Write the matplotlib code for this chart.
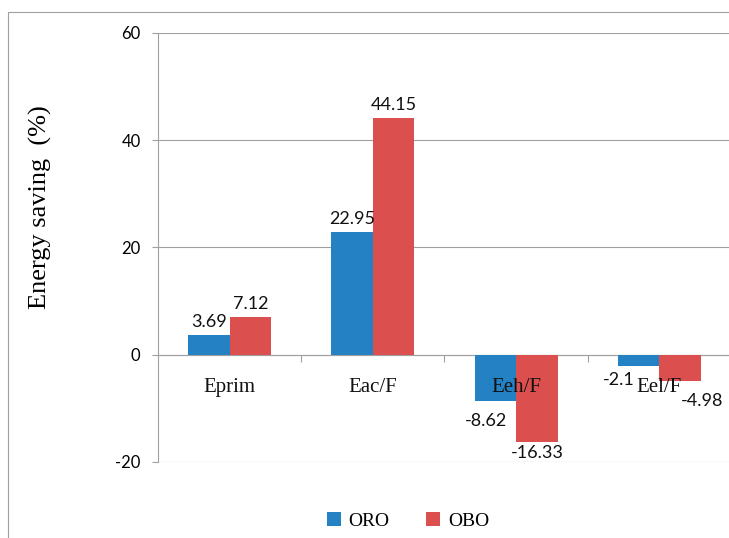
import matplotlib.pyplot as plt
import matplotlib.patches as mpatches
import numpy as np

categories = ['Eprim', 'Eac/F', 'Eeh/F', 'Eel/F']
oro = [3.69, 22.95, -8.62, -2.1]
obo = [7.12, 44.15, -16.33, -4.98]
yticks = [-20, 0, 20, 40, 60]

blue = '#2481c3'
red = '#dc4f4f'
grey = '#a0a0a0'
serif = 'Liberation Serif'
sans = 'Lato'

# label nudges (points) so the small negative labels don't collide
oro_shift = [(0, 3.5), (0, 3.5), (-7, -9), (-14, -4.5)]
obo_shift = [(0, 3.5), (0, 3.5), (0, -2), (16, -8.5)]

fig = plt.figure(figsize=(7.29, 5.38), dpi=100)
ax = fig.add_axes([0.2167, 0.1413, 0.786, 0.7974])

x = np.arange(len(categories))
w = 0.29
ax.bar(x - w/2, oro, w, color=blue, label='ORO', zorder=3)
ax.bar(x + w/2, obo, w, color=red, label='OBO', zorder=3)

for vals, shifts, off in [(oro, oro_shift, -w/2), (obo, obo_shift, w/2)]:
    for i, v in enumerate(vals):
        dx, dy = shifts[i]
        ax.annotate(f'{v:g}', (x[i] + off, v), xytext=(dx, dy),
                    textcoords='offset points', ha='center',
                    va='bottom' if v > 0 else 'top',
                    fontsize=13, family=sans, color='#111111', zorder=4)

ax.set_xlim(-0.5, 3.5)
ax.set_ylim(-20, 60)
ax.set_yticks(yticks)
ax.set_yticklabels([str(t) for t in yticks], family=sans, fontsize=12)
ax.yaxis.grid(True, color=grey, linewidth=0.8, zorder=0)
ax.tick_params(axis='y', direction='out', length=4.5, color=grey, pad=8)

# category axis sits on the zero line
ax.spines['bottom'].set_position(('data', 0))
ax.spines['bottom'].set_color(grey)
ax.spines['left'].set_color(grey)
ax.spines['top'].set_visible(False)
ax.spines['right'].set_visible(False)
ax.set_xticks([0.5, 1.5, 2.5])
ax.set_xticklabels([])
ax.tick_params(axis='x', which='major', direction='out', length=5, color=grey)

# category names drawn on top of the bars
for i, name in enumerate(categories):
    ax.annotate(name, (x[i], 0), xytext=(0, -17), textcoords='offset points',
                ha='center', va='top', family=serif, fontsize=15,
                color='#111111', zorder=5)

ax.set_ylabel('Energy saving  (%)', family=serif, fontsize=19)
ax.yaxis.set_label_coords(-0.185, 0.595)

ax.legend(loc='center', bbox_to_anchor=(408/729, 0.032), bbox_transform=fig.transFigure,
          ncol=2, frameon=False, prop={'family': serif, 'size': 14},
          handlelength=0.7, handleheight=0.7, handletextpad=0.4, columnspacing=1.9)

fig.add_artist(mpatches.Rectangle((8/729, -0.5), 2, 0.5 + 526/538, transform=fig.transFigure,
                                  fill=False, edgecolor=grey, linewidth=0.8))

fig.savefig('out.png', dpi=100)
